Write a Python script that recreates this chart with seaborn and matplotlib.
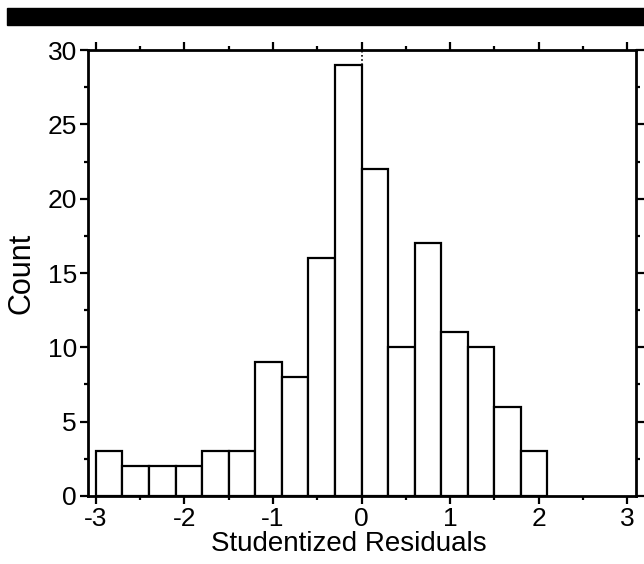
import numpy as np
import pandas as pd
import matplotlib
matplotlib.use("Agg")
import matplotlib.pyplot as plt
import seaborn as sns
from matplotlib.patches import Rectangle
from matplotlib.ticker import MultipleLocator

sns.set_style("white")
plt.rcParams['font.family'] = ['Liberation Sans', 'DejaVu Sans']

bin_left = [-3.0, -2.7, -2.4, -2.1, -1.8, -1.5, -1.2, -0.9, -0.6, -0.3,
            0.0, 0.3, 0.6, 0.9, 1.2, 1.5, 1.8]
counts = [3, 2, 2, 2, 3, 3, 9, 8, 16, 29, 22, 10, 17, 11, 10, 6, 3]
bin_width = 0.3
xticks = [-3, -2, -1, 0, 1, 2, 3]
yticks = [0, 5, 10, 15, 20, 25, 30]

df = pd.DataFrame({"resid": np.array(bin_left) + bin_width / 2, "count": counts})
edges = list(bin_left) + [bin_left[-1] + bin_width]

fig = plt.figure(figsize=(6.44, 5.64), dpi=100)
ax = fig.add_axes([0.1366, 0.1206, 0.851, 0.7907])

sns.histplot(data=df, x="resid", weights="count", bins=edges, ax=ax,
             color="white", edgecolor="black", linewidth=1.6, alpha=1)

ax.set_xlim(-3.09, 3.1)
ax.set_ylim(0, 30)
ax.set_xticks(xticks)
ax.set_yticks(yticks)
ax.set_xticklabels([str(t) for t in xticks])
ax.xaxis.set_minor_locator(MultipleLocator(0.5))
ax.yaxis.set_minor_locator(MultipleLocator(2.5))
ax.tick_params(which="both", direction="out", top=True, right=True,
               bottom=True, left=True, width=1.6, color="black",
               labelsize=19, pad=2, labelcolor="black")
ax.tick_params(which="major", length=6)
ax.tick_params(which="minor", length=3)
ax.tick_params(labeltop=False, labelright=False)
for s in ax.spines.values():
    s.set_visible(True)
    s.set_color("black")
    s.set_linewidth(2)

# dotted reference line at zero
ax.axvline(0, ymin=29 / 30, ymax=1, color="black", linestyle=(0, (1, 1.5)), linewidth=1.2)

ax.set_xlabel("Studentized Residuals", fontsize=20, labelpad=0, color="black", x=0.476)
ax.set_ylabel("Count", fontsize=22, labelpad=8, color="black")

fig.patches.append(Rectangle((7 / 644, 1 - 25 / 564), 1, 17 / 564,
                             transform=fig.transFigure, color="black", zorder=10))

fig.savefig("out.png", dpi=100)
